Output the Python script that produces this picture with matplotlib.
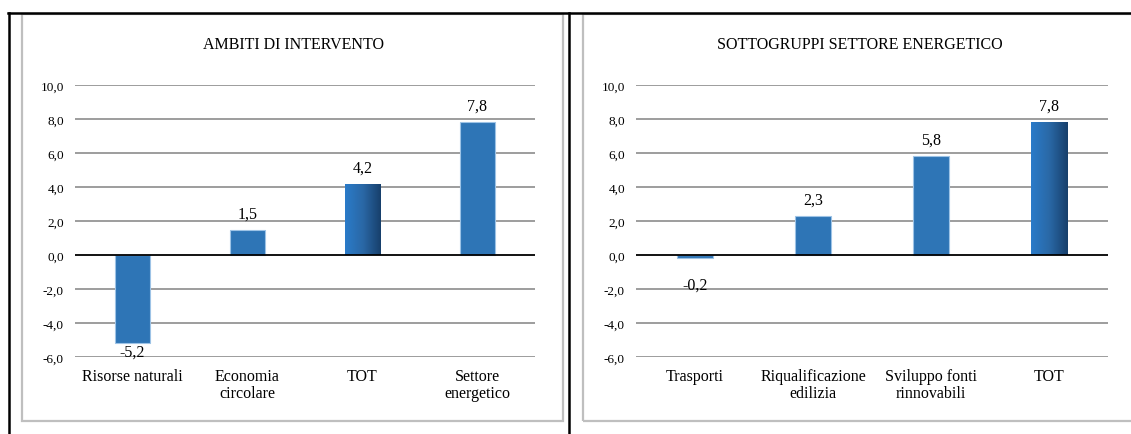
import matplotlib
matplotlib.use("Agg")
import matplotlib.pyplot as plt
import numpy as np
from matplotlib.patches import Rectangle
from matplotlib.lines import Line2D
from matplotlib.colors import LinearSegmentedColormap

plt.rcParams['font.family'] = ['Liberation Serif', 'DejaVu Serif']

# ---- data ----
left_title = "AMBITI DI INTERVENTO"
left_categories = ["Risorse naturali", "Economia\ncircolare", "TOT", "Settore\nenergetico"]
left_values = [-5.2, 1.5, 4.2, 7.8]

right_title = "SOTTOGRUPPI SETTORE ENERGETICO"
right_categories = ["Trasporti", "Riqualificazione\nedilizia", "Sviluppo fonti\nrinnovabili", "TOT"]
right_values = [-0.2, 2.3, 5.8, 7.8]

yticks = [-6, -4, -2, 0, 2, 4, 6, 8, 10]

W, H = 1131, 435
fig = plt.figure(figsize=(W / 100, H / 100), dpi=100)

BAR = "#2E75B6"
EDGE = "#9DC3E6"
grad_cmap = LinearSegmentedColormap.from_list("g", ["#2A7BC9", "#2A68A6", "#173F6B"])


def px_rect(x0, y0, x1, y1):
    """pixel box (top-left origin) -> figure fraction [l, b, w, h]"""
    return [x0 / W, 1 - y1 / H, (x1 - x0) / W, (y1 - y0) / H]


def fmt(v):
    return f"{v:.1f}".replace(".", ",")


def draw_panel(box, title, title_x, cats, vals):
    ax = fig.add_axes(px_rect(*box))
    x = np.arange(len(cats))
    bars = ax.bar(x, vals, width=0.31, color=BAR, edgecolor=EDGE, linewidth=0.8, zorder=3)
    for b, c in zip(bars, cats):
        if c == "TOT":
            b.set_facecolor("none")
            b.set_edgecolor("none")
            x0, w = b.get_x(), b.get_width()
            y0, h = b.get_y(), b.get_height()
            grad = np.linspace(0, 1, 256).reshape(1, -1)
            im = ax.imshow(grad, cmap=grad_cmap, aspect="auto",
                           extent=[x0, x0 + w, y0, y0 + h], zorder=3)
            im.set_clip_path(b)
    ax.set_xlim(-0.5, len(cats) - 0.5)
    ax.set_ylim(-6, 10)
    ax.set_yticks(yticks)
    ax.set_yticklabels([fmt(t) for t in yticks], fontsize=9.5)
    ax.set_xticks(x)
    ax.set_xticklabels(cats, fontsize=11.5, linespacing=1.1)
    ax.tick_params(axis="y", length=0, pad=8)
    ax.tick_params(axis="x", length=0, pad=8)
    for s in ax.spines.values():
        s.set_visible(False)
    for t in yticks:
        ax.axhline(t, color="#000000" if t == 0 else "#8C8C8C",
                   lw=1.3 if t == 0 else 1.2, zorder=1 if t != 0 else 4)
    ax.set_zorder(2)
    ax.patch.set_alpha(0)
    for xi, v in zip(x, vals):
        if v >= 0:
            ax.annotate(fmt(v), (xi, v), xytext=(0, 6), textcoords="offset points",
                        ha="center", va="bottom", fontsize=11.5)
        else:
            ax.annotate(fmt(v), (xi, min(v, -1.3)), xytext=(0, 0), textcoords="offset points",
                        ha="center", va="top", fontsize=11.5)
    fig.text(title_x / W, 1 - 45 / H, title, ha="center", va="center", fontsize=11.5)
    return ax


# gray chart frames
for (x0, y0, x1, y1) in [(22, 14.5, 563, 422), (583, 14.5, 1145, 422)]:
    fig.add_artist(Rectangle((x0 / W, 1 - y1 / H), (x1 - x0) / W, (y1 - y0) / H,
                             transform=fig.transFigure, fill=False,
                             edgecolor="#BFBFBF", linewidth=1.6))

draw_panel((75, 86, 535, 358), left_title, 293, left_categories, left_values)
draw_panel((636, 86, 1108, 358), right_title, 860, right_categories, right_values)

# black table lines
fig.add_artist(Line2D([8 / W, 1], [1 - 13.5 / H] * 2, transform=fig.transFigure,
                      color="black", linewidth=1.8))
for xp in [9, 568.5]:
    fig.add_artist(Line2D([xp / W] * 2, [0, 1 - 13.5 / H], transform=fig.transFigure,
                          color="black", linewidth=1.8))

fig.savefig("out.png", dpi=100)
